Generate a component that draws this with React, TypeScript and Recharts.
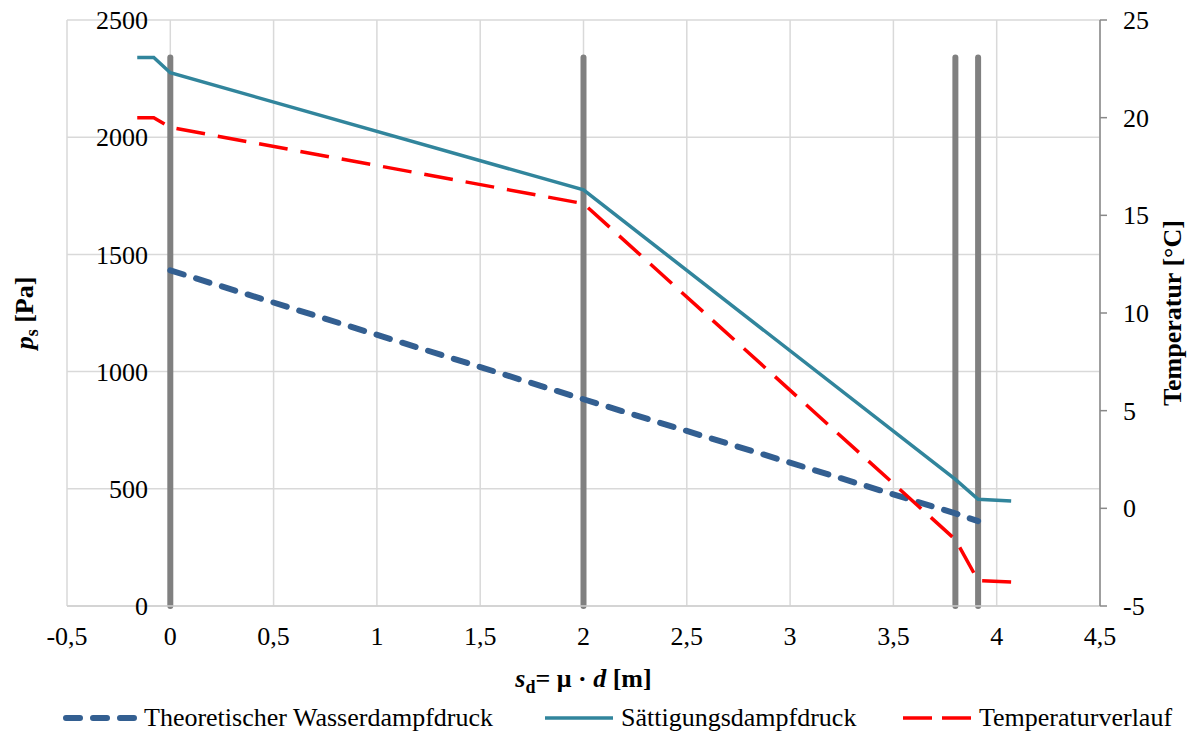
import React from 'react';
import {
  ComposedChart,
  Line,
  XAxis,
  YAxis,
  CartesianGrid,
  ReferenceLine,
} from 'recharts';

// Position through the wall, expressed as diffusion-equivalent air layer thickness s_d [m]
const sdValues = [-0.16, -0.08, 0, 2, 3.8, 3.91, 4.07];
// Theoretical water vapour pressure [Pa]
const vapourPressure: (number | null)[] = [null, null, 1432, 882, 395, 362, null];
// Saturation vapour pressure [Pa]
const saturationPressure = [2340, 2340, 2275, 1775, 540, 455, 448];
// Temperature profile [°C]
const temperature = [20, 20, 19.5, 15.6, -1.6, -3.7, -3.77];

// Layer boundaries (s_d) and the pressure they are drawn up to
const layerBoundaries = [0, 2, 3.8, 3.91];
const boundaryTop = 2340;

const xTicks = [-0.5, 0, 0.5, 1, 1.5, 2, 2.5, 3, 3.5, 4, 4.5];
const pressureTicks = [0, 500, 1000, 1500, 2000, 2500];
const temperatureTicks = [-5, 0, 5, 10, 15, 20, 25];

const legendItems = [
  { name: 'Theoretischer Wasserdampfdruck', kind: 'vapour', left: 62 },
  { name: 'Sättigungsdampfdruck', kind: 'saturation', left: 545 },
  { name: 'Temperaturverlauf', kind: 'temperature', left: 903 },
];

const data = sdValues.map((sd, i) => ({
  sd,
  pv: vapourPressure[i],
  ps: saturationPressure[i],
  t: temperature[i],
}));

const FONT = "'Liberation Serif', 'Times New Roman', serif";
const FONT_SIZE = 26;
const textStyle = { fontFamily: FONT, fontSize: FONT_SIZE };

const COLORS = {
  vapour: '#335f91',
  saturation: '#31859c',
  temperature: '#ff0000',
  boundary: '#808080',
  grid: '#d9d9d9',
  axis: '#888888',
};

const formatDecimal = (v: number) => String(v).replace('.', ',');

// Pressure labels sit next to the s_d = 0 boundary rather than at the plot edge
const PressureTick = (props: any) => {
  const { x, y, payload } = props;
  return (
    <text x={x + 81} y={y} dy="0.35em" textAnchor="end" fill="#000" style={textStyle}>
      {payload.value}
    </text>
  );
};

const XTick = (props: any) => {
  const { x, y, payload } = props;
  return (
    <text x={x} y={y} dy="0.71em" textAnchor="middle" fill="#000" style={textStyle}>
      {formatDecimal(payload.value)}
    </text>
  );
};

const TempTick = (props: any) => {
  const { x, y, payload } = props;
  return (
    <text x={x} y={y} dy="0.35em" textAnchor="start" fill="#000" style={textStyle}>
      {payload.value}
    </text>
  );
};

const titleStyle = { fontFamily: FONT, fontSize: FONT_SIZE, fontWeight: 'bold' as const };

const XTitle = (props: any) => {
  const { viewBox } = props;
  const cx = viewBox.x + viewBox.width / 2;
  const y = viewBox.y + 81;
  return (
    <text x={cx} y={y} textAnchor="middle" fill="#000" style={titleStyle}>
      <tspan fontStyle="italic">s</tspan>
      <tspan style={{ fontSize: 18 }} dy={6}>d</tspan>
      <tspan dy={-6}>= μ · </tspan>
      <tspan fontStyle="italic">d</tspan>
      <tspan> [m]</tspan>
    </text>
  );
};

const LeftTitle = (props: any) => {
  const { viewBox } = props;
  const cy = viewBox.y + viewBox.height / 2;
  const x = 33;
  return (
    <text
      x={x}
      y={cy}
      transform={`rotate(-90 ${x} ${cy})`}
      textAnchor="middle"
      fill="#000"
      style={titleStyle}
    >
      <tspan fontStyle="italic">p</tspan>
      <tspan style={{ fontSize: 18 }} dy={5}>s</tspan>
      <tspan dy={-5}> [Pa]</tspan>
    </text>
  );
};

const RightTitle = (props: any) => {
  const { viewBox } = props;
  const cy = viewBox.y + viewBox.height / 2;
  const x = 1181;
  return (
    <text
      x={x}
      y={cy}
      transform={`rotate(-90 ${x} ${cy})`}
      textAnchor="middle"
      fill="#000"
      style={titleStyle}
    >
      Temperatur [°C]
    </text>
  );
};

const LegendSample = ({ kind }: { kind: string }) => {
  if (kind === 'vapour') {
    return (
      <svg width={76} height={12}>
        <line
          x1={4}
          y1={6}
          x2={72}
          y2={6}
          stroke={COLORS.vapour}
          strokeWidth={6}
          strokeLinecap="round"
          strokeDasharray="14 13"
        />
      </svg>
    );
  }
  if (kind === 'saturation') {
    return (
      <svg width={70} height={12}>
        <line x1={0} y1={6} x2={68} y2={6} stroke={COLORS.saturation} strokeWidth={3.5} />
      </svg>
    );
  }
  return (
    <svg width={70} height={12}>
      <line
        x1={0}
        y1={6}
        x2={68}
        y2={6}
        stroke={COLORS.temperature}
        strokeWidth={3.5}
        strokeDasharray="29 10"
      />
    </svg>
  );
};

export default function App() {
  return (
    <div
      style={{
        position: 'absolute',
        left: 0,
        top: 0,
        width: 1195,
        height: 736,
        background: '#fff',
        fontFamily: FONT,
      }}
    >
      <ComposedChart
        width={1195}
        height={736}
        data={data}
        margin={{ top: 20, right: 0, bottom: 0, left: 0 }}
        style={{ fontFamily: FONT }}
      >
        <CartesianGrid yAxisId="left" stroke={COLORS.grid} strokeWidth={1.5} />
        <XAxis
          dataKey="sd"
          type="number"
          domain={[-0.5, 4.5]}
          ticks={xTicks}
          interval={0}
          height={130}
          tickLine={false}
          tickSize={0}
          tickMargin={21}
          axisLine={{ stroke: '#cfcfcf', strokeWidth: 1.5 }}
          tick={<XTick />}
          label={<XTitle />}
        />
        <YAxis
          yAxisId="left"
          orientation="left"
          domain={[0, 2500]}
          ticks={pressureTicks}
          interval={0}
          width={67}
          axisLine={false}
          tickLine={false}
          tickSize={0}
          tickMargin={0}
          tick={<PressureTick />}
          label={<LeftTitle />}
        />
        <YAxis
          yAxisId="right"
          orientation="right"
          domain={[-5, 25]}
          ticks={temperatureTicks}
          interval={0}
          width={95}
          axisLine={{ stroke: COLORS.axis, strokeWidth: 1.5 }}
          tickLine={{ stroke: COLORS.axis, strokeWidth: 1.5 }}
          tickSize={7}
          tickMargin={16}
          tick={<TempTick />}
          label={<RightTitle />}
        />
        {layerBoundaries.map((b) => (
          <ReferenceLine
            key={b}
            yAxisId="left"
            segment={[
              { x: b, y: 0 },
              { x: b, y: boundaryTop },
            ]}
            stroke={COLORS.boundary}
            strokeWidth={6}
            strokeLinecap="round"
          />
        ))}
        <Line
          yAxisId="left"
          dataKey="pv"
          type="linear"
          stroke={COLORS.vapour}
          strokeWidth={6}
          strokeLinecap="round"
          strokeDasharray="14 13"
          dot={false}
          activeDot={false}
          connectNulls
          isAnimationActive={false}
        />
        <Line
          yAxisId="left"
          dataKey="ps"
          type="linear"
          stroke={COLORS.saturation}
          strokeWidth={3.5}
          dot={false}
          activeDot={false}
          connectNulls
          isAnimationActive={false}
        />
        <Line
          yAxisId="right"
          dataKey="t"
          type="linear"
          stroke={COLORS.temperature}
          strokeWidth={3.5}
          strokeDasharray="29 13"
          dot={false}
          activeDot={false}
          connectNulls
          isAnimationActive={false}
        />
      </ComposedChart>
      <div style={{ position: 'absolute', left: 0, top: 703, width: 1195, height: 30 }}>
        {legendItems.map((item) => (
          <div
            key={item.name}
            style={{
              position: 'absolute',
              left: item.left,
              top: 0,
              height: 30,
              display: 'flex',
              alignItems: 'center',
              whiteSpace: 'nowrap',
            }}
          >
            <LegendSample kind={item.kind} />
            <span
              style={{
                fontSize: FONT_SIZE,
                lineHeight: '30px',
                color: '#000',
                marginLeft: 6,
                fontFamily: FONT,
              }}
            >
              {item.name}
            </span>
          </div>
        ))}
      </div>
    </div>
  );
}
